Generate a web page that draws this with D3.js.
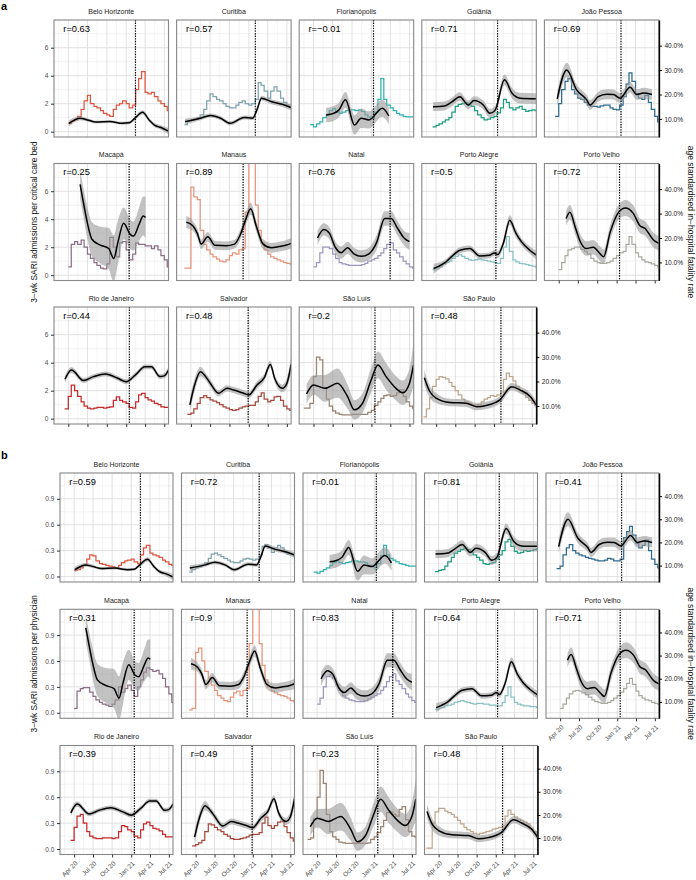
<!DOCTYPE html>
<html><head><meta charset="utf-8">
<script src="https://cdn.jsdelivr.net/npm/d3@7"></script>
<style>
body{margin:0;background:#fff}
svg text{font-family:"Liberation Sans",Arial,Helvetica,sans-serif}
</style></head>
<body><svg id="c" width="696" height="880"></svg>
<script>
// ---------------- DATA ----------------
const cities = ["Belo Horizonte","Curitiba","Florianópolis","Goiânia","João Pessoa","Macapá","Manaus","Natal","Porto Alegre","Porto Velho","Rio de Janeiro","Salvador","São Luís","São Paulo"];
const cityColours = ["#e2553f","#7ea4ad","#2fb4b1","#1f9e80","#2e6b8f","#8b6f86","#e8947b","#9c98bf","#8cc2c4","#a9aba1","#c8292a","#a84a3b","#9b8170","#bfa68e"];
const rBed  = ["0.63","0.57","−0.01","0.71","0.69","0.25","0.89","0.76","0.5","0.72","0.44","0.48","0.2","0.48"];
const rPhys = ["0.59","0.72","0.01","0.81","0.41","0.31","0.9","0.83","0.64","0.71","0.39","0.49","0.23","0.48"];
const variantDates = ["2021-02-14","2021-02-01","2021-01-11","2021-01-18","2021-01-22","2021-01-15","2020-12-05","2021-03-31","2021-01-10","2021-01-15","2021-01-16","2020-12-29","2021-01-18","2021-02-03"];
const xTickLabels = ["Apr 20","Jul 20","Oct 20","Jan 21","Apr 21","Jul 21"];
const xTickDates = ["2020-04-01","2020-07-01","2020-10-01","2021-01-01","2021-04-01","2021-07-01"];

// 3-wk SARI admissions per critical care bed, semi-monthly (1st & 15th), Feb 2020 - Jul 2021
const bedBH  = [null,null,null,null,0.6,0.75,0.85,1.1,1.6,2.2,2.6,2.0,1.8,1.7,1.5,1.3,1.2,1.1,1.6,1.9,2.0,2.2,2.0,1.7,1.9,3.0,3.8,4.3,2.8,2.7,2.8,2.5,2.2,2.0,1.8,1.5];
const bedCUR = [null,null,0.5,0.8,0.85,0.9,1.0,1.2,1.6,2.2,2.7,2.5,2.3,2.2,2.0,1.8,1.7,1.7,1.9,2.1,2.2,2.0,1.9,2.0,2.3,3.5,3.3,2.9,2.4,2.9,3.2,2.9,2.4,2.1,1.9,1.8];
const bedFLO = [null,null,null,0.5,0.35,0.55,0.7,1.0,1.2,1.5,1.65,1.4,1.3,1.4,1.5,1.55,1.55,1.5,1.55,1.45,1.2,1.05,0.95,1.4,2.3,3.8,2.3,1.9,1.7,1.5,1.3,1.2,1.1,1.05,1.05,1.05];
const bedGOI = [null,null,null,0.35,0.45,0.55,0.7,0.85,1.0,1.4,1.8,1.95,2.0,2.05,1.9,1.8,1.5,1.2,1.0,0.85,0.9,1.0,1.1,1.35,1.7,2.3,2.1,1.7,1.55,1.7,1.8,1.6,1.45,1.5,1.55,1.5];
const bedJP  = [null,null,null,1.1,2.0,3.0,3.6,3.8,3.0,2.7,2.4,2.3,2.1,1.9,1.8,1.8,1.75,1.85,1.9,1.9,1.7,1.6,1.55,1.9,2.5,3.4,4.2,3.6,2.7,2.4,2.3,2.6,2.1,1.6,1.1,0.7];
const bedMAC = [null,null,null,null,0.6,2.2,2.4,2.2,2.5,2.0,1.5,1.2,0.9,0.7,0.5,0.45,0.8,2.7,2.0,1.3,2.3,2.4,1.8,1.1,1.5,2.3,2.2,2.2,2.1,2.1,1.9,2.1,1.8,1.4,1.1,0.6];
const bedMAN = [null,null,0.5,0.5,6.3,5.6,5.4,3.2,2.2,1.8,1.5,1.3,1.15,1.0,0.95,1.1,1.4,1.6,1.5,1.8,1.9,4.5,9.0,8.5,5.0,3.2,2.3,1.8,1.5,1.3,1.2,1.1,1.0,0.9,0.85,0.8];
const bedNAT = [null,null,null,null,0.6,0.9,1.6,2.0,2.0,1.9,1.5,1.2,0.9,0.8,0.75,0.7,0.7,0.7,0.7,0.75,0.85,1.0,1.1,1.2,1.4,1.6,1.9,2.2,2.3,1.8,1.6,1.3,1.0,0.8,0.6,0.5];
const bedPOA = [null,null,null,0.4,0.5,0.6,0.8,0.9,1.0,1.2,1.35,1.45,1.35,1.2,1.1,1.05,1.1,1.15,1.1,1.05,1.0,0.95,0.9,0.85,1.2,2.0,2.75,1.7,1.1,0.95,0.85,0.8,0.75,0.7,0.65,0.6];
const bedPVH = [null,null,null,null,0.4,0.9,1.4,1.8,1.9,2.0,2.0,1.85,1.7,1.5,1.2,1.0,0.9,0.85,0.85,0.9,1.0,1.2,1.4,1.6,1.7,2.2,2.75,2.2,1.6,1.3,1.1,0.95,0.9,0.8,0.7,0.6];
const bedRIO = [null,null,null,0.7,1.6,2.4,2.0,1.6,1.2,0.9,0.75,0.7,0.75,0.8,0.8,0.75,0.8,0.85,1.3,1.55,1.3,1.2,1.1,0.8,0.75,1.2,1.7,1.8,1.5,1.35,1.25,1.1,1.0,0.85,0.8,0.8];
const bedSSA = [null,null,null,0.3,0.4,0.7,1.1,1.5,1.65,1.5,1.35,1.25,1.15,1.0,0.85,0.75,0.65,0.6,0.65,0.75,0.85,0.9,0.95,0.95,1.2,1.6,1.85,1.4,1.2,1.3,1.55,1.6,1.3,0.9,0.7,0.6];
const bedSLZ = [null,0.75,0.75,1.1,3.0,4.4,4.2,2.2,1.4,0.9,0.55,0.4,0.3,0.28,0.28,0.28,0.3,0.3,0.3,0.3,0.3,0.45,0.6,0.95,1.2,1.45,1.65,1.7,1.6,1.65,1.85,2.05,1.6,1.2,0.9,0.75];
const bedSAO = [0.13,0.7,1.5,2.3,2.8,3.0,2.95,2.85,2.6,2.3,2.0,1.7,1.4,1.2,1.1,1.0,0.95,1.0,1.2,1.4,1.5,1.65,1.6,1.7,1.9,2.8,3.25,3.0,2.7,2.3,2.0,1.8,1.5,1.3,1.1,0.95];

// 3-wk SARI admissions per physician, same dates
const phyBH  = [null,null,null,null,0.07,0.08,0.1,0.13,0.2,0.25,0.24,0.18,0.15,0.14,0.13,0.12,0.11,0.1,0.13,0.16,0.18,0.19,0.2,0.17,0.15,0.25,0.33,0.36,0.27,0.25,0.24,0.22,0.19,0.17,0.14,0.13];
const phyCUR = [null,null,0.05,0.08,0.1,0.11,0.13,0.16,0.21,0.26,0.27,0.25,0.23,0.21,0.19,0.17,0.16,0.16,0.18,0.2,0.21,0.2,0.19,0.2,0.25,0.35,0.37,0.33,0.28,0.33,0.36,0.33,0.28,0.26,0.25,0.24];
const phyFLO = [null,null,null,0.05,0.04,0.06,0.08,0.1,0.13,0.16,0.18,0.16,0.15,0.16,0.17,0.18,0.18,0.17,0.17,0.16,0.13,0.12,0.1,0.15,0.24,0.36,0.25,0.21,0.19,0.17,0.15,0.14,0.13,0.12,0.12,0.12];
const phyGOI = [null,null,null,0.055,0.07,0.08,0.12,0.17,0.22,0.27,0.29,0.31,0.33,0.31,0.28,0.25,0.22,0.19,0.15,0.14,0.15,0.16,0.2,0.25,0.3,0.4,0.43,0.35,0.29,0.27,0.28,0.3,0.29,0.3,0.31,0.32];
const phyJP  = [null,null,null,0.09,0.12,0.25,0.33,0.37,0.3,0.27,0.25,0.24,0.22,0.21,0.2,0.19,0.18,0.18,0.19,0.21,0.2,0.18,0.18,0.2,0.45,0.52,0.58,0.48,0.38,0.33,0.36,0.42,0.3,0.2,0.14,0.1];
const phyMAC = [null,null,null,null,0.05,0.25,0.28,0.29,0.29,0.24,0.19,0.15,0.12,0.1,0.09,0.075,0.1,0.15,0.3,0.24,0.28,0.32,0.26,0.19,0.3,0.38,0.47,0.52,0.5,0.48,0.49,0.45,0.4,0.3,0.22,0.12];
const phyMAN = [null,null,0.035,0.05,0.7,0.75,0.6,0.48,0.4,0.32,0.26,0.2,0.17,0.14,0.13,0.18,0.23,0.25,0.2,0.26,0.28,0.8,1.4,1.3,0.8,0.55,0.38,0.3,0.25,0.23,0.21,0.2,0.19,0.17,0.14,0.13];
const phyNAT = [null,null,null,null,0.1,0.17,0.3,0.42,0.44,0.4,0.32,0.26,0.2,0.17,0.15,0.14,0.13,0.13,0.13,0.14,0.16,0.18,0.2,0.22,0.26,0.3,0.36,0.42,0.45,0.37,0.33,0.28,0.22,0.18,0.14,0.12];
const phyPOA = [null,null,null,0.04,0.05,0.06,0.08,0.09,0.1,0.12,0.13,0.14,0.13,0.12,0.11,0.1,0.11,0.11,0.1,0.1,0.09,0.09,0.08,0.08,0.12,0.2,0.3,0.18,0.12,0.1,0.09,0.08,0.08,0.07,0.07,0.06];
const phyPVH = [null,null,null,null,0.05,0.1,0.17,0.22,0.25,0.26,0.25,0.23,0.21,0.18,0.15,0.13,0.12,0.11,0.11,0.12,0.14,0.17,0.2,0.24,0.28,0.34,0.4,0.33,0.25,0.2,0.17,0.15,0.14,0.12,0.11,0.1];
const phyRIO = [null,null,null,0.1,0.25,0.38,0.4,0.3,0.2,0.15,0.13,0.12,0.12,0.13,0.13,0.13,0.12,0.13,0.2,0.27,0.26,0.22,0.2,0.15,0.13,0.22,0.29,0.31,0.27,0.24,0.23,0.21,0.17,0.14,0.14,0.14];
const phySSA = [null,null,null,0.035,0.05,0.07,0.1,0.2,0.29,0.28,0.25,0.22,0.2,0.17,0.15,0.12,0.11,0.11,0.12,0.13,0.14,0.16,0.17,0.17,0.19,0.3,0.37,0.27,0.24,0.27,0.31,0.32,0.26,0.19,0.13,0.09];
const phySLZ = [null,0.11,0.13,0.35,0.6,0.91,0.76,0.4,0.2,0.14,0.11,0.08,0.07,0.065,0.065,0.065,0.065,0.065,0.065,0.065,0.07,0.11,0.14,0.19,0.26,0.33,0.42,0.43,0.4,0.38,0.46,0.49,0.34,0.2,0.15,0.14];
const phySAO = [0.01,0.01,0.3,0.43,0.47,0.47,0.44,0.42,0.4,0.37,0.33,0.29,0.25,0.22,0.2,0.18,0.17,0.18,0.19,0.2,0.21,0.23,0.24,0.25,0.27,0.38,0.45,0.4,0.37,0.35,0.33,0.31,0.29,0.24,0.2,0.17];

// age standardised in-hospital fatality rate (%): [date, smoothed value, CI half-width]
const fatBH  = [["2020-04-04",8.2,1.3],["2020-05-27",10.3,0.8],["2020-07-01",9.6,0.7],["2020-08-10",8.7,0.6],["2020-10-15",8.9,0.6],["2020-12-15",8.2,0.6],["2021-01-15",8.4,0.6],["2021-02-10",10.2,0.8],["2021-03-20",12.7,0.9],["2021-04-20",9.6,0.8],["2021-05-15",7.5,0.8],["2021-06-15",6.5,0.9],["2021-07-21",5.0,1.3]];
const fatCUR = [["2020-03-04",8.9,1.2],["2020-05-16",10.3,0.8],["2020-07-03",11.4,0.8],["2020-08-20",10.3,0.8],["2020-10-05",8.2,0.8],["2020-12-10",10.6,0.8],["2021-01-19",10.3,0.8],["2021-02-10",14.0,1.0],["2021-03-02",18.5,1.0],["2021-04-20",17.0,1.0],["2021-06-08",16.0,1.0],["2021-07-21",14.6,1.2]];
const fatFLO = [["2020-05-31",11.6,3.0],["2020-07-06",12.3,3.0],["2020-07-30",13.6,3.0],["2020-08-31",17.8,3.2],["2020-10-13",7.5,4.0],["2020-11-13",10.3,4.0],["2020-12-20",9.6,3.5],["2021-02-22",14.4,3.5],["2021-03-25",11.2,3.5]];
const fatGOI = [["2020-03-17",15.0,1.8],["2020-05-10",15.3,1.8],["2020-06-15",17.0,1.8],["2020-07-23",19.1,1.8],["2020-09-01",15.7,1.8],["2020-09-28",17.5,1.8],["2020-11-11",15.7,1.8],["2020-12-13",12.3,1.8],["2021-01-06",13.5,1.8],["2021-02-20",26.0,2.2],["2021-03-28",20.5,2.2],["2021-05-05",18.5,2.2],["2021-07-21",18.3,2.2]];
const fatJP  = [["2020-03-25",18.2,3.0],["2020-05-09",30.0,3.0],["2020-06-25",21.9,2.2],["2020-08-12",17.8,2.0],["2020-08-28",15.7,2.0],["2020-10-06",19.1,2.0],["2020-11-15",20.1,2.0],["2020-12-17",20.0,2.0],["2021-01-18",18.5,2.0],["2021-03-06",23.0,2.2],["2021-04-07",20.0,2.2],["2021-05-09",20.6,2.2],["2021-06-18",20.0,2.2]];
const fatMAC = [["2020-05-27",42,6],["2020-06-15",33,6],["2020-07-01",26,6.5],["2020-07-22",19.5,7],["2020-08-31",17.1,7.5],["2020-10-10",15.7,8.5],["2020-11-03",11.6,9.5],["2020-11-22",18,9],["2020-12-20",26,6.5],["2021-01-20",21.5,6],["2021-02-05",20.8,6],["2021-03-05",26,7],["2021-03-23",29,8],["2021-04-03",28.4,8.5]];
const fatMAN = [["2020-03-10",26.5,2.5],["2020-04-10",25.0,2.0],["2020-05-01",22.0,2.0],["2020-05-20",17.5,2.0],["2020-06-20",20.5,2.0],["2020-07-25",17.0,1.8],["2020-09-15",16.8,1.8],["2020-10-25",17.5,1.8],["2020-11-20",21.0,2.0],["2020-12-15",27.0,2.5],["2021-01-10",32.0,2.5],["2021-02-05",25.0,2.2],["2021-03-10",17.5,2.0],["2021-04-20",16.0,2.0],["2021-05-25",16.5,2.0],["2021-06-25",17.0,2.0],["2021-07-21",17.8,2.2]];
const fatNAT = [["2020-04-20",20,3],["2020-05-20",23.5,2.5],["2020-06-15",22,2.5],["2020-07-15",16,2.5],["2020-08-10",14,2.5],["2020-09-10",16,2.5],["2020-10-10",13.5,2.5],["2020-11-15",12.5,2.5],["2020-12-20",13.5,2.5],["2021-01-25",18,3],["2021-03-05",28,3],["2021-04-05",28,3],["2021-05-05",24,3],["2021-06-05",20,3],["2021-07-01",18.5,3.5]];
const fatPOA = [["2020-03-20",7.5,2.0],["2020-04-15",8.5,1.5],["2020-05-15",10.0,1.2],["2020-06-15",12.5,1.2],["2020-07-23",15.0,1.2],["2020-09-08",15.7,1.2],["2020-10-25",12.6,1.2],["2020-12-10",12.9,1.2],["2021-01-03",13.9,1.2],["2021-01-19",13.2,1.4],["2021-02-15",18.0,1.6],["2021-03-17",27.3,2.0],["2021-04-15",22.0,1.8],["2021-05-12",18.4,1.5],["2021-06-20",15.0,1.5],["2021-07-21",13.0,1.8]];
const fatPVH = [["2020-05-06",28,3],["2020-05-24",30.5,3],["2020-06-20",24,3],["2020-07-10",19,3],["2020-08-10",15.7,3],["2020-09-12",16.2,3],["2020-10-15",13.5,3],["2020-10-31",12.3,3],["2020-12-02",22.5,3],["2021-01-10",30.5,3],["2021-02-12",32.3,3.3],["2021-03-22",30,3.3],["2021-04-22",25,3],["2021-05-15",24,3],["2021-06-25",19.2,3],["2021-07-21",17.8,3]];
const fatRIO = [["2020-03-16",20.9,1.5],["2020-04-16",24.7,1.2],["2020-06-12",20.4,1.0],["2020-07-30",22.0,1.0],["2020-09-25",23.1,1.0],["2020-11-22",21.3,1.0],["2021-01-01",19.9,1.0],["2021-02-14",22.7,1.0],["2021-03-31",26.0,1.0],["2021-05-01",26.0,1.0],["2021-06-10",22.0,1.0],["2021-06-30",22.3,1.0],["2021-07-21",24.7,1.3]];
const fatSSA = [["2020-03-27",10.4,3.0],["2020-04-20",19,2.5],["2020-05-16",24,2.0],["2020-06-10",22,1.5],["2020-07-02",19.3,1.5],["2020-08-10",15.2,1.3],["2020-09-20",17.2,1.3],["2020-10-21",16.5,1.3],["2020-12-07",15.2,1.3],["2021-01-01",14.5,1.3],["2021-02-09",18.6,1.5],["2021-03-15",21.5,1.5],["2021-04-13",27.0,1.5],["2021-05-05",21.0,1.5],["2021-06-10",17.2,1.6],["2021-06-30",19.0,2.0],["2021-07-21",27.0,3.0]];
const fatSLZ = [["2020-02-28",14.9,4],["2020-04-01",18.6,4],["2020-05-25",17.2,5.5],["2020-07-24",19.3,6],["2020-09-10",13.8,5],["2020-10-12",8.4,4],["2020-11-20",11.1,4],["2020-12-31",20.6,5],["2021-02-01",26.8,5.5],["2021-03-12",22,5.5],["2021-04-28",17.2,5],["2021-05-30",15.4,5],["2021-07-01",19.3,6],["2021-07-20",26.8,9]];
const fatSAO = [["2020-02-05",21.5,3.0],["2020-03-01",16.0,2.5],["2020-04-03",13.1,2.0],["2020-06-05",11.4,1.5],["2020-08-22",11.1,1.5],["2020-10-10",9.7,1.5],["2020-11-25",10.2,1.5],["2021-01-29",12.5,1.5],["2021-03-27",17.9,1.5],["2021-05-06",16.5,1.5],["2021-06-23",13.8,1.5],["2021-07-21",10.4,1.8]];

const bedSeries = [bedBH,bedCUR,bedFLO,bedGOI,bedJP,bedMAC,bedMAN,bedNAT,bedPOA,bedPVH,bedRIO,bedSSA,bedSLZ,bedSAO];
const phySeries = [phyBH,phyCUR,phyFLO,phyGOI,phyJP,phyMAC,phyMAN,phyNAT,phyPOA,phyPVH,phyRIO,phySSA,phySLZ,phySAO];
const fatSeries = [fatBH,fatCUR,fatFLO,fatGOI,fatJP,fatMAC,fatMAN,fatNAT,fatPOA,fatPVH,fatRIO,fatSSA,fatSLZ,fatSAO];

// ---------------- DRAWING ----------------
const parse = d3.timeParse("%Y-%m-%d");
const xStart = parse("2020-01-24"), xEnd = parse("2021-07-21");
const stepDates = [];
for (let i = 0; i < 18; i++) {
  const m = 1 + i, y = 2020 + Math.floor(m / 12);
  stepDates.push(new Date(y, m % 12, 1), new Date(y, m % 12, 15));
}
const majors = xTickDates.map(parse);
const minors = [];
const half = (majors[1] - majors[0]) / 2;
minors.push(new Date(+majors[0] - half));
for (let i = 0; i < majors.length - 1; i++) minors.push(new Date((+majors[i] + +majors[i + 1]) / 2));

const svg = d3.select("#c");
const sections = [
  {tag:"a", tagY:10, x0:54, dx:122.6, pw:114.5, tops:[20,163.5,307], ph:117,
   yL:[-0.38,7.98], yLt:[0,2,4,6], yLm:[1,3,5,7], fmt:d3.format("d"), yR:[2.6,50.5],
   series:bedSeries, r:rBed, xLabels:false, title:"3−wk SARI admissions per critical care bed"},
  {tag:"b", tagY:459, x0:60, dx:121.5, pw:113, tops:[473,609.3,745.5], ph:109,
   yL:[-0.064,1.199], yLt:[0,0.3,0.6,0.9], yLm:[0.15,0.45,0.75,1.05], fmt:d3.format(".1f"), yR:[2.9,50.0],
   series:phySeries, r:rPhys, xLabels:true, title:"3−wk SARI admissions per physician"}
];
let clipId = 0;

sections.forEach(sec => {
  svg.append("text").attr("x", 1).attr("y", sec.tagY).attr("font-size", 11).attr("font-weight", "bold").text(sec.tag);
  const midY = (sec.tops[0] + sec.tops[2] + sec.ph) / 2;
  svg.append("text").attr("transform", `translate(37,${midY}) rotate(-90)`).attr("text-anchor", "middle")
    .attr("font-size", 8.4).attr("fill", "#111").text(sec.title);
  svg.append("text").attr("transform", `translate(688,${midY}) rotate(90)`).attr("text-anchor", "middle")
    .attr("font-size", 8.5).attr("fill", "#111").text("age standardised in−hospital fatality rate");

  const x = d3.scaleTime().domain([xStart, xEnd]).range([0, sec.pw]);
  const yL = d3.scaleLinear().domain(sec.yL).range([sec.ph, 0]);
  const yR = d3.scaleLinear().domain(sec.yR).range([sec.ph, 0]);

  cities.forEach((city, i) => {
    const row = Math.floor(i / 5), col = i % 5;
    const px = sec.x0 + col * sec.dx, py = sec.tops[row];
    const g = svg.append("g").attr("transform", `translate(${px},${py})`);
    const cid = "clip" + (clipId++);
    g.append("clipPath").attr("id", cid).append("rect").attr("width", sec.pw).attr("height", sec.ph);

    // grid
    const grid = g.append("g");
    minors.forEach(d => grid.append("line").attr("x1", x(d)).attr("x2", x(d)).attr("y1", 0).attr("y2", sec.ph).attr("stroke", "#ebebeb").attr("stroke-width", 0.6));
    sec.yLm.forEach(v => grid.append("line").attr("x1", 0).attr("x2", sec.pw).attr("y1", yL(v)).attr("y2", yL(v)).attr("stroke", "#ebebeb").attr("stroke-width", 0.6));
    majors.forEach(d => grid.append("line").attr("x1", x(d)).attr("x2", x(d)).attr("y1", 0).attr("y2", sec.ph).attr("stroke", "#dedede").attr("stroke-width", 0.9));
    sec.yLt.forEach(v => grid.append("line").attr("x1", 0).attr("x2", sec.pw).attr("y1", yL(v)).attr("y2", yL(v)).attr("stroke", "#dedede").attr("stroke-width", 0.9));

    const data = g.append("g").attr("clip-path", `url(#${cid})`);
    // step series
    const vals = sec.series[i];
    const pts = [];
    vals.forEach((v, k) => { if (v !== null) pts.push([stepDates[k], v]); });
    pts.push([xEnd, pts[pts.length - 1][1]]);
    data.append("path").attr("d", d3.line().x(d => x(d[0])).y(d => yL(d[1])).curve(d3.curveStepAfter)(pts))
      .attr("fill", "none").attr("stroke", cityColours[i]).attr("stroke-width", 1.25);
    // ribbon + smooth fatality
    const fat = fatSeries[i].map(d => ({t: parse(d[0]), v: d[1], c: d[2]}));
    data.append("path").attr("d", d3.area().x(d => x(d.t)).y0(d => yR(d.v - d.c)).y1(d => yR(d.v + d.c)).curve(d3.curveMonotoneX)(fat))
      .attr("fill", "#999").attr("fill-opacity", 0.6);
    // variant date
    const vd = parse(variantDates[i]);
    data.append("line").attr("x1", x(vd)).attr("x2", x(vd)).attr("y1", 0).attr("y2", sec.ph)
      .attr("stroke", "#000").attr("stroke-width", 1.2).attr("stroke-dasharray", "1.4,1.2");
    data.append("path").attr("d", d3.line().x(d => x(d.t)).y(d => yR(d.v)).curve(d3.curveMonotoneX)(fat))
      .attr("fill", "none").attr("stroke", "#000").attr("stroke-width", 1.5);

    g.append("text").attr("x", 9.3).attr("y", 11.7).attr("font-size", 9.3).attr("fill", "#000").text("r=" + sec.r[i]);
    g.append("rect").attr("width", sec.pw).attr("height", sec.ph).attr("fill", "none").attr("stroke", "#878787").attr("stroke-width", 1.1);

    // strip title
    svg.append("text").attr("x", px + sec.pw / 2).attr("y", py - 6.3).attr("text-anchor", "middle")
      .attr("font-size", 7).attr("fill", "#1a1a1a").text(city);

    // left axis
    if (col === 0) {
      const ax = g.append("g").call(d3.axisLeft(yL).tickValues(sec.yLt).tickFormat(sec.fmt).tickSize(3).tickPadding(2.5));
      ax.select(".domain").remove();
      ax.selectAll("line").attr("stroke", "#333");
      ax.selectAll("text").attr("fill", "#4d4d4d").attr("font-size", 6.6).attr("font-family", "Liberation Sans, Arial, sans-serif");
    }
    // right axis
    if (col === 4 || i === cities.length - 1) {
      const ax = g.append("g").attr("transform", `translate(${sec.pw},0)`)
        .call(d3.axisRight(yR).tickValues([10,20,30,40]).tickFormat(d => d.toFixed(1) + "%").tickSize(3).tickSizeOuter(0).tickPadding(2.5));
      ax.select(".domain").attr("stroke", "#000").attr("stroke-width", 1.5);
      ax.selectAll(".tick line").attr("stroke", "#000").attr("stroke-width", 1);
      ax.selectAll("text").attr("fill", "#1a1a1a").attr("font-size", 6.6).attr("font-family", "Liberation Sans, Arial, sans-serif");
    }
    // bottom axis
    if (row === 2 || (row === 1 && col === 4)) {
      const ax = g.append("g").attr("transform", `translate(0,${sec.ph})`)
        .call(d3.axisBottom(x).tickValues(majors).tickFormat((d, k) => sec.xLabels ? xTickLabels[k] : "").tickSize(3).tickSizeOuter(0));
      ax.select(".domain").remove();
      ax.selectAll("line").attr("stroke", "#333");
      ax.selectAll("text").attr("fill", "#4d4d4d").attr("font-size", 6.5).attr("font-family", "Liberation Sans, Arial, sans-serif")
        .attr("text-anchor", "end").attr("y", 0).attr("dy", "0.72em")
        .attr("transform", "translate(0,6) rotate(-45)");
    }
  });
});
</script></body></html>
